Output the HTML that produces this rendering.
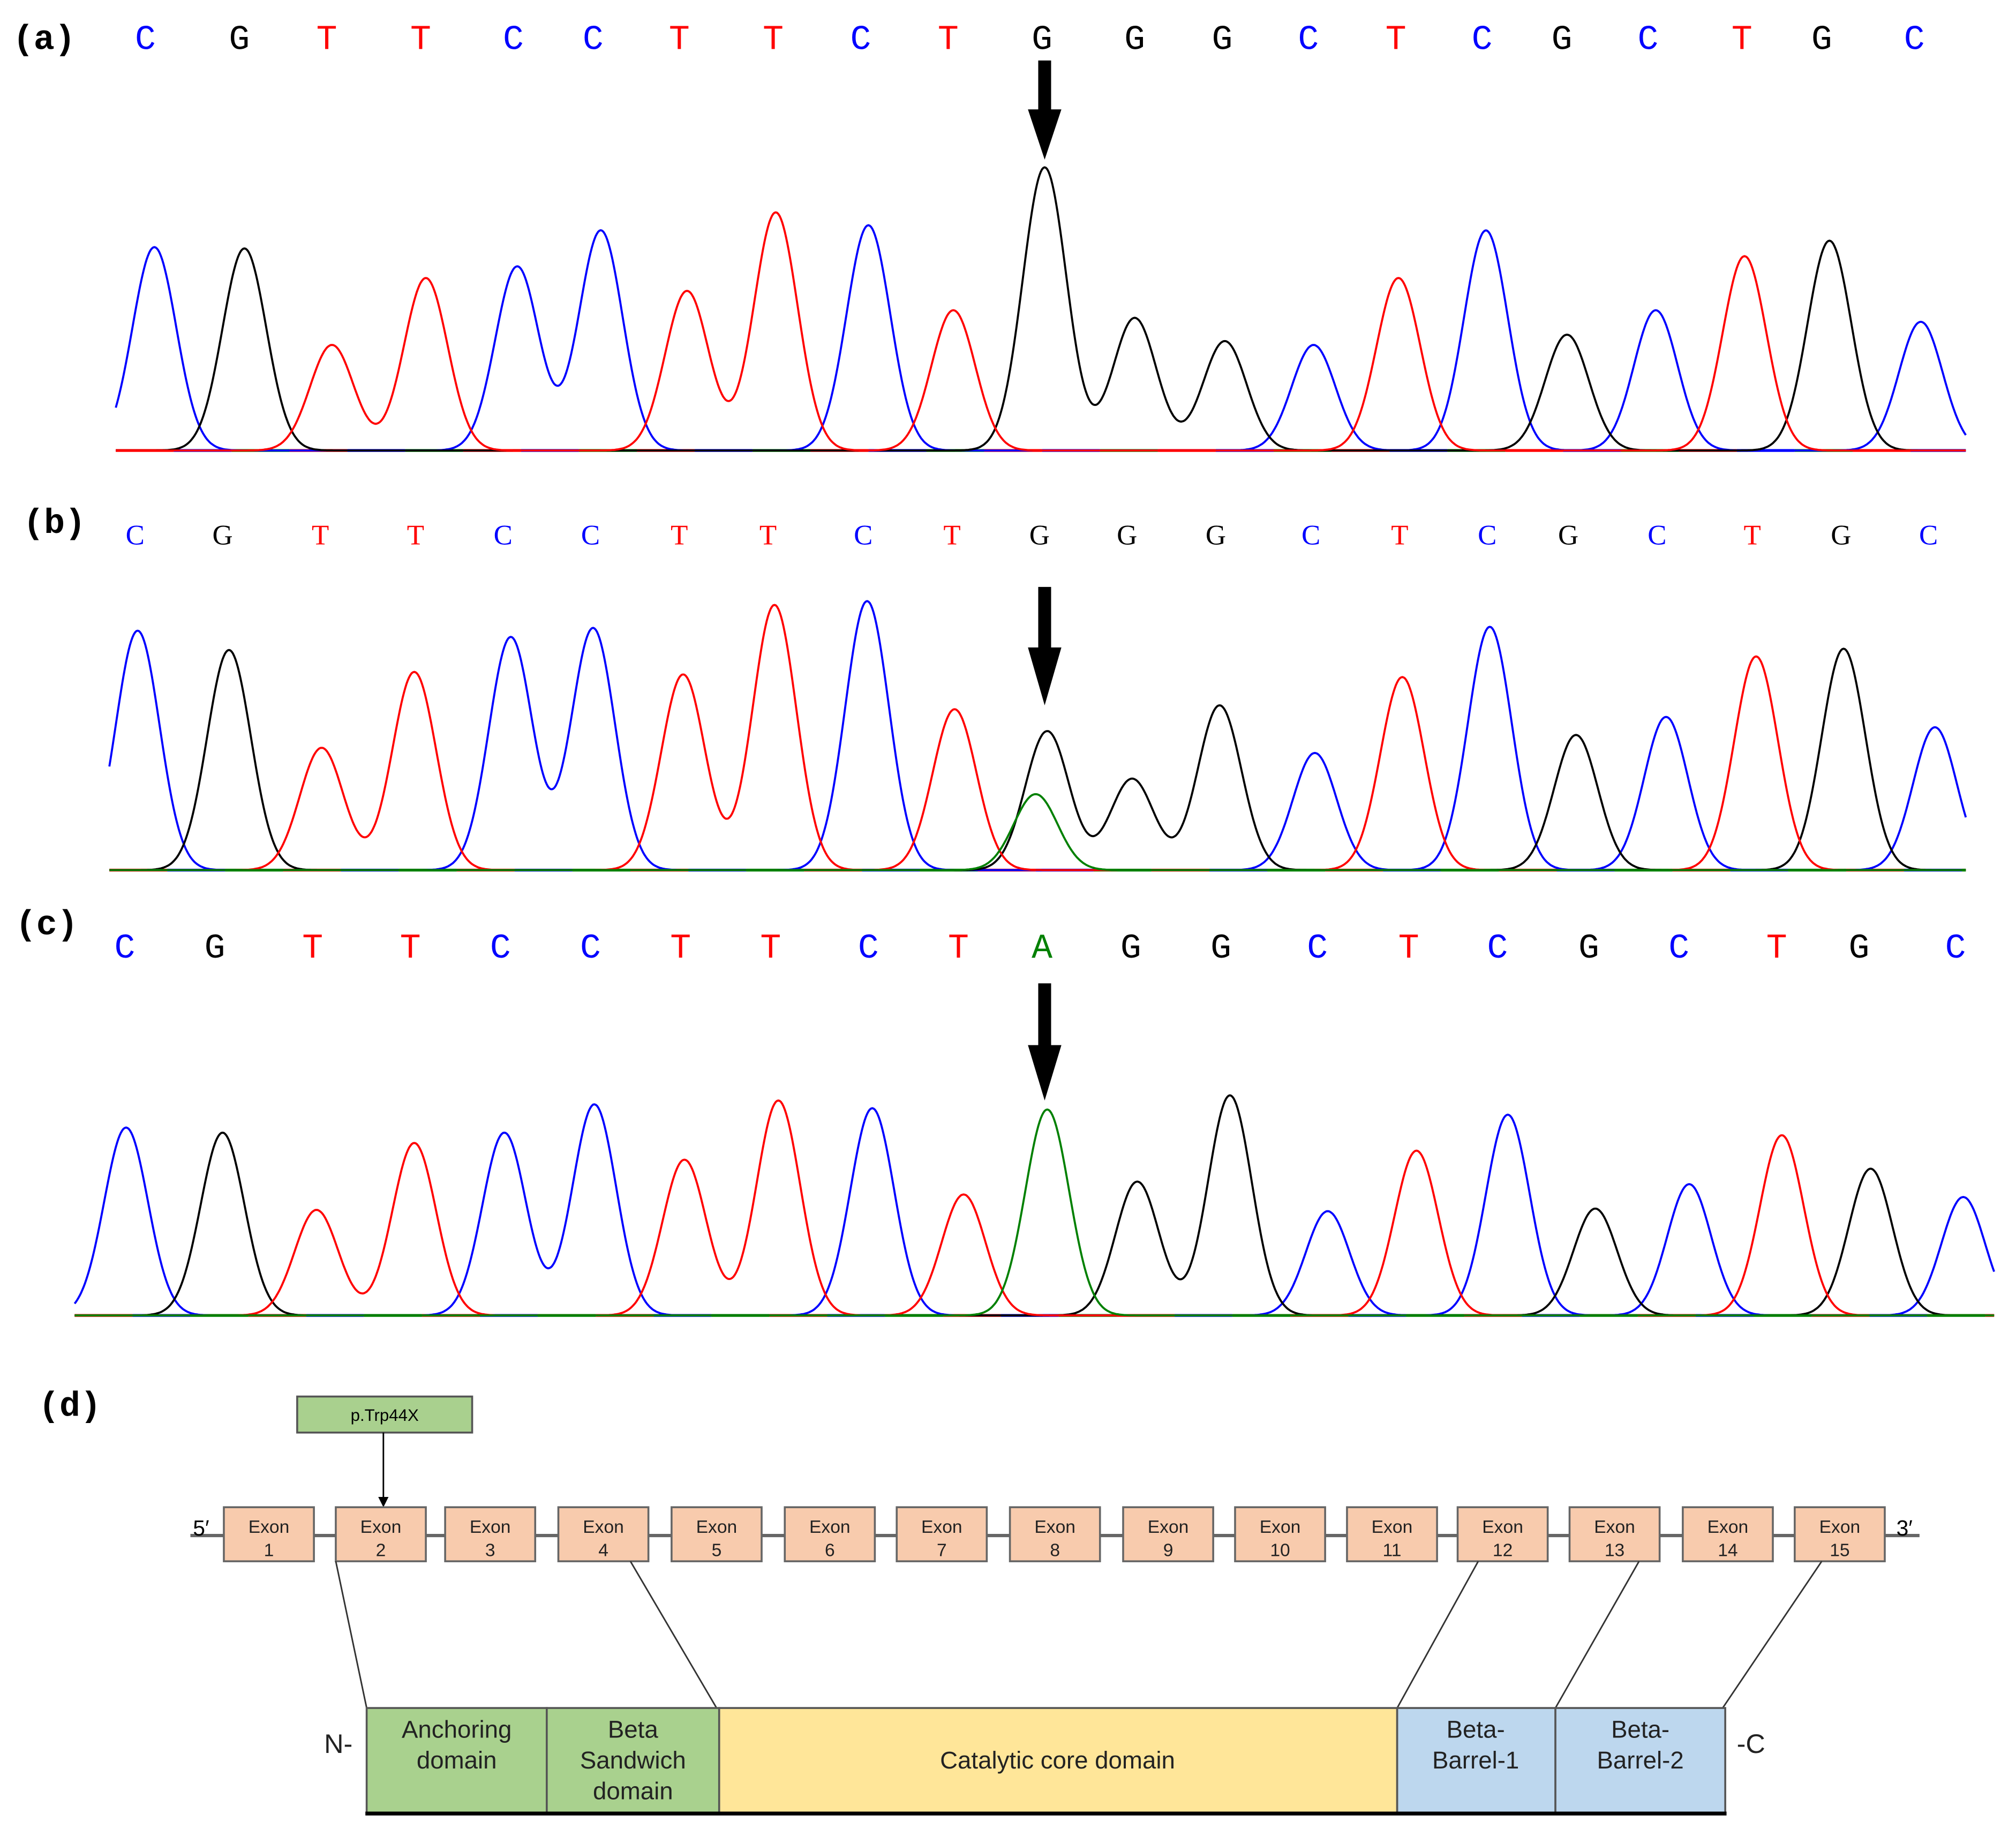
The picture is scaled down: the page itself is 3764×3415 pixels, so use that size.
<!DOCTYPE html>
<html><head><meta charset="utf-8">
<style>
html,body{margin:0;padding:0;background:#fff;}
svg{display:block;}
.seq{font-family:"Liberation Mono",monospace;}
.seqb{font-family:"Liberation Serif",serif;}
.lab{font-family:"Liberation Mono",monospace;font-weight:bold;font-size:27px;}
.sm{font-family:"Liberation Sans",sans-serif;}
</style></head>
<body>
<svg id="s" width="3764" height="3415" viewBox="0 0 1567 1421" preserveAspectRatio="none" xmlns="http://www.w3.org/2000/svg">
<rect width="1600" height="1450" fill="#fff"/>
<text class="lab" x="10" y="38">(a)</text>
<text class="lab" x="18" y="414">(b)</text>
<text class="lab" x="12" y="726">(c)</text>
<text class="lab" x="30" y="1100">(d)</text>
<g id="g"></g>
<g fill="#000">
<rect x="807" y="47" width="10" height="40"/><polygon points="799,85 825,85 812,124"/>
<rect x="807" y="456" width="10" height="50"/><polygon points="799,503 825,503 812,548"/>
<rect x="807" y="764" width="10" height="50"/><polygon points="799,812 825,812 812,855"/>
</g>
<rect x="231" y="1085" width="136" height="28" fill="#a9d08e" stroke="#555" stroke-width="1.5"/>
<text class="sm" x="299" y="1104" font-size="13" text-anchor="middle">p.Trp44X</text>
<line x1="298" y1="1113" x2="298" y2="1164" stroke="#000" stroke-width="1.2"/>
<polygon points="294,1163 302,1163 298,1171" fill="#000"/>
<line x1="148" y1="1193" x2="1492" y2="1193" stroke="#666" stroke-width="2.5"/>
<text class="sm" x="150" y="1193" font-size="17">5′</text>
<text class="sm" x="1474" y="1193" font-size="17">3′</text>
<g id="ex"></g>
<g stroke="#333" stroke-width="1.2">
<line x1="261" y1="1213" x2="285" y2="1327"/>
<line x1="490" y1="1213" x2="557" y2="1327"/>
<line x1="1149" y1="1213" x2="1086" y2="1327"/>
<line x1="1274" y1="1213" x2="1209" y2="1327"/>
<line x1="1416" y1="1213" x2="1339" y2="1327"/>
</g>
<g stroke="#555" stroke-width="1.5">
<rect x="285" y="1327" width="140" height="82" fill="#a9d18e"/>
<rect x="425" y="1327" width="134" height="82" fill="#a9d18e"/>
<rect x="559" y="1327" width="527" height="82" fill="#ffe699"/>
<rect x="1086" y="1327" width="123" height="82" fill="#bdd7ee"/>
<rect x="1209" y="1327" width="132" height="82" fill="#bdd7ee"/>
</g>
<line x1="284" y1="1409" x2="1342" y2="1409" stroke="#000" stroke-width="3"/>
<g class="sm" font-size="19" text-anchor="middle" fill="#222">
<text x="355" y="1350">Anchoring</text><text x="355" y="1374">domain</text>
<text x="492" y="1350">Beta</text><text x="492" y="1374">Sandwich</text><text x="492" y="1398">domain</text>
<text x="822" y="1374">Catalytic core domain</text>
<text x="1147" y="1350">Beta-</text><text x="1147" y="1374">Barrel-1</text>
<text x="1275" y="1350">Beta-</text><text x="1275" y="1374">Barrel-2</text>
<text x="263" y="1362" font-size="21">N-</text>
<text x="1361" y="1362" font-size="21">-C</text>
</g>
</svg>
<script>
var NS="http://www.w3.org/2000/svg",g=document.getElementById('g');
var col={C:'#0000ff',G:'#000',T:'#ff0000',A:'#008000'};
function el(t,a,p){var e=document.createElementNS(NS,t);for(var k in a)e.setAttribute(k,a[k]);(p||g).appendChild(e);return e;}
var seq="CGTTCCTTCTGGGCTCGCTGC";
function panel(lx,ly,fs,seqs,base,x0,x1,peaks,sig,cls){
 for(var i=0;i<lx.length;i++){var c=seqs[i];var t=el('text',{x:lx[i],y:ly,'font-size':fs,fill:col[c],'text-anchor':'middle','class':cls||'seq'});t.textContent=c;}
 var segs=['#ff0000','#0000ff','#008000'];
 for(var x=x0,k=0;x<x1;x+=45,k++){el('line',{x1:x,y1:base,x2:Math.min(x+45,x1),y2:base,stroke:segs[k%3],'stroke-width':2.2});}
 ['C','G','T','A'].forEach(function(c){
  var ps=peaks.filter(function(p){return p[2]==c;});if(!ps.length)return;
  var d='';
  for(var x=x0;x<=x1;x+=1){var h=0;ps.forEach(function(p){h+=(base-p[1])*Math.exp(-(x-p[0])*(x-p[0])/(2*sig*sig));});
   d+=(x==x0?'M':'L')+x+','+(base-h).toFixed(1);}
  el('path',{d:d,fill:'none',stroke:col[c],'stroke-width':1.6});
 });
}
function mk(xs,tops,s){return xs.map(function(x,i){return [x,tops[i],s[i]];});}
panel([113,186,254,327,399,461,528,601,669,737,810,882,950,1017,1085,1152,1214,1281,1354,1416,1488],38,27,seq,350,90,1528,
 mk([120,190,258,331,402,467,534,603,675,741,812,882,952,1021,1087,1155,1218,1287,1356,1422,1493],
 [192,193,268,216,207,179,226,165,175,241,130,247,265,268,216,179,260,241,199,187,250],seq),17);
panel([105,173,249,323,391,459,528,597,671,740,808,876,945,1019,1088,1156,1219,1288,1362,1431,1499],423,22,seq,676,85,1528,
 mk([107,178,250,322,397,461,531,602,674,742,814,880,948,1022,1090,1158,1225,1295,1365,1433,1504,805],
 [490,505,581,522,495,488,524,470,467,551,568,605,548,585,526,487,571,557,510,504,565,617],seq+"A"),17,'seqb');
var seqc="CGTTCCTTCTAGGCTCGCTGC";
panel([97,167,243,319,389,459,529,599,675,745,810,879,949,1024,1095,1164,1235,1305,1381,1445,1520],744,27,seqc,1022,58,1550,
 mk([98,173,246,322,392,462,532,605,678,749,814,884,956,1032,1101,1172,1240,1313,1385,1454,1526],
 [876,880,940,888,880,858,901,855,861,928,862,918,851,941,894,866,939,920,882,908,930],seqc),17);
var ex=document.getElementById('ex');
[174,261,346,434,522,610,697,785,873,960,1047,1133,1220,1308,1395].forEach(function(x,i){
 el('rect',{x:x,y:1171,width:70,height:42,fill:'#f8cbad',stroke:'#666','stroke-width':1.5},ex);
 var t=el('text',{x:x+35,y:1191,'font-size':14,'text-anchor':'middle','class':'sm',fill:'#222'},ex);t.textContent='Exon';
 var n=el('text',{x:x+35,y:1209,'font-size':14,'text-anchor':'middle','class':'sm',fill:'#222'},ex);n.textContent=(i+1);
});
</script>
</body></html>
